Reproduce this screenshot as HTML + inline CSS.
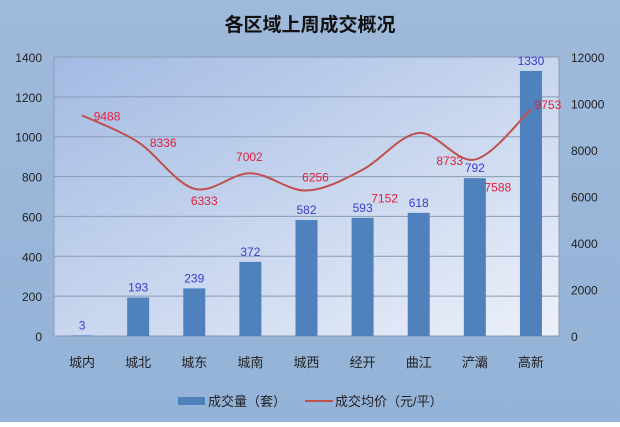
<!DOCTYPE html>
<html><head><meta charset="utf-8"><style>
body{margin:0;width:620px;height:422px;overflow:hidden;font-family:"Liberation Sans","Noto Sans CJK SC",sans-serif}
</style></head><body>
<svg id="c" width="620" height="422" xmlns="http://www.w3.org/2000/svg">
<defs>
<linearGradient id="bg" x1="0" y1="0" x2="0" y2="1"><stop offset="0" stop-color="#9fb9da"/><stop offset="1" stop-color="#94b3d8"/></linearGradient>
<linearGradient id="pg" x1="0" y1="0" x2="1" y2="1"><stop offset="0" stop-color="#a2bae3"/><stop offset="1" stop-color="#edf1f9"/></linearGradient>
</defs>
<rect width="620" height="422" fill="url(#bg)"/>
<text x="310" y="31" text-anchor="middle" font-size="19" font-weight="bold" fill="#111">各区域上周成交概况</text>
<rect x="54" y="57" width="505" height="279" fill="url(#pg)" stroke="#8a9bb5"/>
<g id="grid"></g><g id="bars"></g><g id="line"></g><g id="labels"></g><g id="axes"></g>
<g>
<rect x="178" y="397" width="27" height="8" fill="#4f81bd"/>
<text x="208" y="406" font-size="13" fill="#222">成交量（套）</text>
<line x1="305" y1="401" x2="333" y2="401" stroke="#c0504d" stroke-width="2"/>
<text x="335" y="406" font-size="13" fill="#222">成交均价（元/平）</text>
</g>
</svg>
<script>
const categories=["城内","城北","城东","城南","城西","经开","曲江","浐灞","高新"];
const volumes=[3,193,239,372,582,593,618,792,1330];
const prices=[9488,8336,6333,7002,6256,7152,8733,7588,9753];
const leftTicks=[0,200,400,600,800,1000,1200,1400];
const rightTicks=[0,2000,4000,6000,8000,10000,12000];
const NS="http://www.w3.org/2000/svg";
const X0=54,X1=559,Y0=57,Y1=336;
const bw=(X1-X0)/categories.length;
const xC=i=>X0+bw*(i+0.5);
const yL=v=>Y1-(v/1400)*(Y1-Y0);
const yR=v=>Y1-(v/12000)*(Y1-Y0);
function mk(tag,attrs,parent,txt){const e=document.createElementNS(NS,tag);for(const k in attrs)e.setAttribute(k,attrs[k]);if(txt!==undefined)e.textContent=txt;document.getElementById(parent).appendChild(e);return e;}
leftTicks.forEach(t=>{
 if(t>0&&t<1400){const g=mk('line',{x1:X0,x2:X1,y1:yL(t),y2:yL(t),stroke:'#8a9bb5','stroke-width':1},'grid');
 
 }
 const e=mk('text',{x:42,y:yL(t)+5,'text-anchor':'end','font-size':12,fill:'#222'},'axes',t);
 
 
});
rightTicks.forEach(t=>{
 const e=mk('text',{x:571,y:yR(t)+5,'font-size':12,fill:'#222'},'axes',t);
 
 
});
categories.forEach((c,i)=>{
 const e=mk('text',{x:xC(i),y:367,'text-anchor':'middle','font-size':13,fill:'#222'},'axes',c);
 
 
});
volumes.forEach((v,i)=>{
 const w=22,y=yL(v);
 const r=mk('rect',{x:xC(i)-w/2,y:y,width:w,height:Y1-y,fill:'#4f81bd'},'bars');
 
 
 const t=mk('text',{x:xC(i),y:y-6,'text-anchor':'middle','font-size':12,fill:'#3b3bd0'},'labels',v);
 
 
});
const pts=prices.map((p,i)=>[xC(i),yR(p)]);
let d='M'+pts[0][0]+','+pts[0][1];
for(let i=0;i<pts.length-1;i++){
 const p0=pts[Math.max(0,i-1)],p1=pts[i],p2=pts[i+1],p3=pts[Math.min(pts.length-1,i+2)];
 const k=1/6;
 d+=` C${p1[0]+(p2[0]-p0[0])*k},${p1[1]+(p2[1]-p0[1])*k} ${p2[0]-(p3[0]-p1[0])*k},${p2[1]-(p3[1]-p1[1])*k} ${p2[0]},${p2[1]}`;
}
const ln=mk('path',{d:d,fill:'none',stroke:'#c0504d','stroke-width':2},'line');


const offX=[25,25,10,-1,9,22,31,23,17];
const offY=[5,5,16,-12,-9,33,32,32,0];
prices.forEach((p,i)=>{
 const t=mk('text',{x:pts[i][0]+offX[i],y:pts[i][1]+offY[i],'text-anchor':'middle','font-size':12,fill:'#e0203a'},'labels',p);
 
 
});
</script>
</body></html>
